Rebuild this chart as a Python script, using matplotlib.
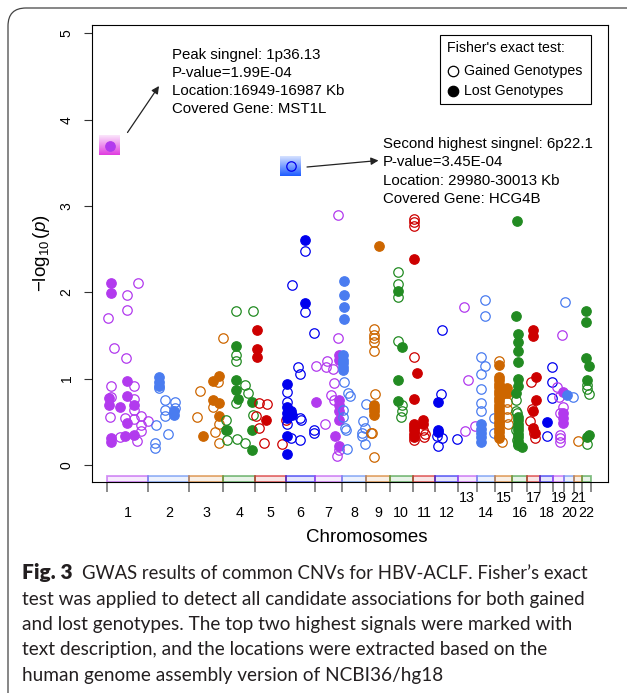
import numpy as np
import matplotlib
matplotlib.use("Agg")
import matplotlib.pyplot as plt
from matplotlib.patches import Rectangle, FancyBboxPatch
from matplotlib.lines import Line2D
from matplotlib.transforms import IdentityTransform, blended_transform_factory

plt.rcParams['font.family'] = ['Liberation Sans', 'DejaVu Sans']
plt.rcParams['mathtext.fontset'] = 'custom'
plt.rcParams['mathtext.rm'] = 'Liberation Sans'
plt.rcParams['mathtext.it'] = 'Liberation Sans:italic'

# ---------------- data ----------------
chrom_labels = [str(i) for i in range(1, 23)]
chrom_len_mb = [247.25, 242.95, 199.50, 191.27, 180.86, 170.90, 158.82, 146.27,
                140.27, 135.37, 134.45, 132.35, 114.14, 106.37, 100.34, 88.83,
                78.77, 76.12, 63.81, 62.44, 46.94, 49.69]
chrom_colors = ['#B23AEE', '#4A7CF0', '#CD6600', '#228B22', '#CD0000', '#0000EE']

# Gained genotypes (open circles): position within chromosome (Mb), -log10(p)
gained_pos = [
    [183.7, 118.5, 118.5, 9.5, 43, 112.6, 25.5, 160, 25.5, 160, 162, 21.3, 110, 160, 205, 205, 205, 179.5, 80.6, 246],
    [60.8, 100, 155.6, 96.4, 155.6, 96.4, 46.6, 116, 40.7, 40.7],
    [197, 60.9, 171, 137.9, 44.9, 173.4, 153.3, 173.4],
    [74.7, 179, 74.7, 74.7, 129.8, 149.3, 74.7, 179, 17.2, 21.3, 80.6, 129.8, 21.3],
    [23.2, 67, 3.7, 23.2, 52.8, 156, 180],
    [30.0, 113.2, 34.4, 113.2, 169.5, 73.5, 83.5, 8.3, 8.3, 83.5, 87.7, 8.3, 28.4, 83.5, 169.5, 169.5],
    [139.5, 139.5, 7.4, 70.8, 66.7, 110, 114, 96.3, 114, 60.7, 130, 145.5],
    [16.3, 40, 50, 146, 10.4, 10.4, 20.4, 26.4, 125.3, 139, 119.4, 139, 30.5, 123],
    [47.8, 47.8, 47.8, 47.8, 47.8, 52, 26.4, 34, 47.8],
    [49.7, 49.7, 49.7, 49.7, 69.9, 69.9, 65.7],
    [9.1, 9.1, 9.1, 9.1, 62.5, 72.5, 66.6, 9.1],
    [37, 31.1, 7.4, 40.6, 16.9, 130.6],
    [36.8, 58.7, 42.7, 102],
    [47.1, 47.1, 23.4, 47.1, 23.4, 23.4, 23.4, 23.4, 103.4, 103.4],
    [25.5, 69.3, 69.3, 72.9, 78.8, 39.7],
    [22.3, 22.3, 30, 22.3, 28.2, 37.7],
    [22.3, 28.3, 18.2, 41.9, 47.8],
    [68, 68, 68, 42],
    [51.1, 25, 37, 61.8, 41, 41, 41, 41],
    [6.9, 52.5],
    [23.2],
    [26, 29.6, 41.5, 26],
]
gained_logp = [
    [2.11, 1.97, 1.79, 1.70, 1.35, 1.24, 0.915, 0.91, 0.79, 0.76, 0.64, 0.56, 0.54, 0.53, 0.57, 0.46, 0.39, 0.28, 0.32, 0.51],
    [0.89, 0.75, 0.73, 0.64, 0.66, 0.57, 0.46, 0.355, 0.26, 0.20],
    [1.475, 0.86, 0.965, 0.675, 0.56, 0.48, 0.385, 0.26],
    [1.78, 1.78, 1.275, 1.205, 0.93, 0.83, 0.715, 0.58, 0.52, 0.405, 0.30, 0.25, 0.29],
    [0.72, 0.71, 0.57, 0.425, 0.26, 0.245, 0.52],
    [3.46, 2.48, 2.085, 1.77, 1.53, 1.14, 1.055, 0.85, 0.73, 0.54, 0.52, 0.48, 0.31, 0.29, 0.40, 0.37],
    [2.90, 1.47, 1.15, 1.20, 1.14, 1.11, 0.95, 0.81, 0.75, 0.475, 0.10, 0.17],
    [0.965, 0.83, 0.80, 0.71, 0.64, 0.56, 0.425, 0.40, 0.51, 0.425, 0.33, 0.245, 0.19, 0.37],
    [1.57, 1.51, 1.47, 1.43, 1.32, 0.82, 0.37, 0.37, 0.09],
    [2.23, 2.10, 1.94, 1.44, 0.69, 0.63, 0.56],
    [2.85, 2.81, 2.77, 1.25, 0.41, 0.36, 0.32, 0.29],
    [1.56, 0.82, 0.34, 0.31, 0.22, 0.30],
    [1.83, 0.99, 0.39, 0.45],
    [1.91, 1.73, 1.255, 1.15, 1.055, 0.88, 0.72, 0.62, 0.55, 0.375],
    [1.20, 0.73, 0.645, 0.56, 0.475, 0.27],
    [0.75, 0.63, 0.60, 0.405, 0.29, 0.23],
    [0.965, 0.645, 0.51, 0.37, 0.31],
    [1.14, 0.96, 0.78, 0.33],
    [1.51, 0.90, 0.79, 0.67, 0.60, 0.35, 0.31, 0.27],
    [1.885, 0.785],
    [0.28],
    [0.93, 0.875, 0.82, 0.245],
]

# Lost genotypes (filled circles)
lost_pos = [
    [16.97, 25.5, 25.5, 120, 120, 15.4, 15.4, 80.6, 160, 120, 110, 160, 27, 27],
    [60.8, 60.8, 60.8, 149.7, 149.7],
    [137.9, 173.4, 137.9, 173.4, 173.4, 78.6],
    [74.7, 74.7, 74.7, 90, 169.4, 169.4, 169.4, 17.2],
    [7.8, 7.8, 7.8, 63],
    [113.2, 113.2, 8.3, 8.3, 30, 8.3, 36, 8.3, 8.3, 8.3],
    [7.4, 145.5, 145.5, 145.5, 145.5, 145.5, 145.5, 120, 145.5],
    [16.3, 16.3, 16.3, 16.3, 10.4, 10.4, 10.4, 10.4, 10.4],
    [75.6, 47.8, 47.8, 47.8, 47.8],
    [49.7, 73.4, 49.7, 49.7],
    [9.1, 25.1, 9.1, 9.1, 9.1, 9.1, 9.1, 9.1, 62.5, 62.5],
    [16.9, 16.9, 16.9],
    [],
    [23.4, 23.4, 23.4, 23.4, 23.4],
    [25.5, 25.5, 25.5, 25.5, 25.5, 25.5, 25.5, 25.5, 25.5, 25.5, 25.5, 25.5, 25.5, 25.5,
     25.5, 25.5, 25.5, 25.5, 25.5, 25.5, 72.9, 72.9],
    [28.2, 22.3, 37.7, 37.7, 37.7, 37.7, 37.7, 37.7, 22.3, 37.7, 37.7, 37.7, 37.7, 37.7,
     37.7, 37.7, 37.7, 37.7, 61.4],
    [37.7, 37.7, 52, 52, 37.7, 37.7, 47.8],
    [42],
    [57, 61.8, 61.8, 61.8],
    [17],
    [],
    [20.1, 20.1, 20.1, 41.5, 26, 41.5, 29.6],
]
lost_logp = [
    [3.70, 2.105, 1.99, 0.973, 0.80, 0.773, 0.70, 0.676, 0.695, 0.483, 0.34, 0.347, 0.31, 0.27],
    [1.02, 0.965, 0.91, 0.62, 0.58],
    [0.973, 1.03, 0.75, 0.72, 0.57, 0.33],
    [1.38, 0.99, 0.87, 0.77, 0.73, 0.405, 0.17, 0.41],
    [1.56, 1.34, 1.25, 0.52],
    [2.61, 1.875, 0.935, 0.67, 0.63, 0.60, 0.58, 0.55, 0.33, 0.13],
    [0.73, 1.27, 1.22, 0.75, 0.70, 0.62, 0.52, 0.335, 0.22],
    [2.13, 1.97, 1.83, 1.69, 1.27, 1.22, 1.18, 1.14, 1.10],
    [2.54, 0.70, 0.66, 0.62, 0.58],
    [2.02, 1.37, 0.99, 0.74],
    [2.39, 1.06, 0.76, 0.48, 0.44, 0.40, 0.36, 0.32, 0.52, 0.47],
    [0.73, 0.41, 0.38],
    [],
    [0.47, 0.42, 0.37, 0.32, 0.27],
    [1.16, 1.02, 0.98, 0.94, 0.90, 0.86, 0.82, 0.78, 0.74, 0.70, 0.66, 0.62, 0.58, 0.54,
     0.50, 0.46, 0.42, 0.38, 0.34, 0.31, 0.89, 0.83],
    [2.83, 1.73, 1.52, 1.43, 1.32, 1.19, 1.00, 0.915, 0.83, 0.56, 0.52, 0.48, 0.44, 0.40,
     0.36, 0.32, 0.28, 0.24, 0.21],
    [1.56, 1.49, 1.02, 0.75, 0.63, 0.425, 0.37],
    [0.50],
    [0.85, 0.60, 0.55, 0.49],
    [0.81],
    [],
    [1.78, 1.66, 1.235, 1.15, 0.985, 0.35, 0.32],
]

# highlighted signals
hl_chrom = [1, 6]
hl_pos = [16.968, 29.997]
hl_logp = [3.70, 3.46]
hl_colors = [('#FBE6FB', '#E03CE0'), ('#D6E2FF', '#1E5CFF')]
hl_texts = [["Peak singnel: 1p36.13", "P-value=1.99E-04", "Location:16949-16987 Kb",
             "Covered Gene: MST1L"],
            ["Second highest singnel: 6p22.1", "P-value=3.45E-04", "Location: 29980-30013 Kb",
             "Covered Gene: HCG4B"]]

caption_bold = "Fig. 3"
caption_lines = ["GWAS results of common CNVs for HBV-ACLF. Fisher\u2019s exact",
                 "test was applied to detect all candidate associations for both gained",
                 "and lost genotypes. The top two highest signals were marked with",
                 "text description, and the locations were extracted based on the",
                 "human genome assembly version of NCBI36/hg18"]

# ---------------- figure ----------------
W, H = 627, 693
fig = plt.figure(figsize=(W / 100, H / 100), dpi=100)


def F(x, y):
    return (x / W, 1 - y / H)


ax = fig.add_axes([92 / W, 1 - 482 / H, 516 / W, 457 / H])

starts = np.concatenate([[0], np.cumsum(chrom_len_mb)[:-1]])
ends = starts + np.array(chrom_len_mb)
total = ends[-1]

# highlight gradient squares
for c, p, lp, (ctop, cbot) in zip(hl_chrom, hl_pos, hl_logp, hl_colors):
    x0 = starts[c - 1] + p
    t = np.linspace(0, 1, 64)[:, None]
    ct = np.array(matplotlib.colors.to_rgb(ctop))
    cb = np.array(matplotlib.colors.to_rgb(cbot))
    img = (ct[None, None, :] * (1 - t[..., None]) + cb[None, None, :] * t[..., None])
    hw, hh = 10.5 * total / 484.0, 9.5 / 86.3
    ax.imshow(img, extent=[x0 - hw, x0 + hw, lp - hh, lp + hh], origin='upper',
              aspect='auto', zorder=1, interpolation='bilinear')

for i in range(22):
    col = chrom_colors[i % 6]
    gx = starts[i] + np.array(gained_pos[i], dtype=float)
    ax.plot(gx, gained_logp[i], ls='none', marker='o', mfc='none', mec=col,
            ms=6.8, mew=0.9, zorder=3)
    if lost_pos[i]:
        lx = starts[i] + np.array(lost_pos[i], dtype=float)
        ax.plot(lx, lost_logp[i], ls='none', marker='o', mfc=col, mec=col,
                ms=6.8, mew=0.9, zorder=3)

ymin, ymax = -0.197, 5.096
xmin, xmax = -87.1, total + 103

# chromosome bars
for i in range(22):
    col = chrom_colors[i % 6]
    ax.add_patch(Rectangle((starts[i], ymin), chrom_len_mb[i], 0.073,
                           facecolor=col, edgecolor='none', alpha=0.10, zorder=2))
    ax.add_patch(Rectangle((starts[i], ymin), chrom_len_mb[i], 0.073,
                           facecolor='none', edgecolor=col, alpha=0.55, lw=1.3, zorder=2))

ax.set_xlim(xmin, xmax)
ax.set_ylim(ymin, ymax)
for s in ax.spines.values():
    s.set_linewidth(0.8)
    s.set_color('black')

ax.set_yticks(range(6))
ax.set_yticklabels([str(v) for v in range(6)], rotation=90, va='center')
ax.tick_params(axis='y', length=5.8, width=0.8, labelsize=10, pad=7.5, color='#333333')

ax.set_xticks(np.append(starts, total))
ax.set_xticklabels([])
ax.tick_params(axis='x', length=7.5, width=1.2, color='#777777')

trans = blended_transform_factory(ax.transData, ax.transAxes)
for i, lab in enumerate(chrom_labels):
    cx = starts[i] + chrom_len_mb[i] / 2
    upper = (i + 1) >= 13 and (i + 1) % 2 == 1
    yy = -16 / 457 if upper else -31 / 457
    ax.text(cx, yy, lab, transform=trans, ha='center', va='center', fontsize=10.3)

fig.text(*F(367, 538), "Chromosomes", ha='center', va='center', fontsize=13.5)
fig.text(*F(42, 253), r"$-\log_{10}(p)$", ha='center', va='center', rotation=90, fontsize=13.5)

# annotations
for j, ln in enumerate(hl_texts[0]):
    fig.text(*F(172, 58.8 + 18 * j), ln, ha='left', va='baseline', fontsize=10.8)
for j, ln in enumerate(hl_texts[1]):
    fig.text(*F(383, 148.2 + 18.2 * j), ln, ha='left', va='baseline', fontsize=10.8)
ax.annotate('', xy=F(159, 86), xytext=F(127.5, 132.5), xycoords='figure fraction',
            textcoords='figure fraction',
            arrowprops=dict(arrowstyle='-|>', color='#222222', lw=0.9, mutation_scale=11,
                            shrinkA=0, shrinkB=0))
ax.annotate('', xy=F(378.5, 160.5), xytext=F(307, 167), xycoords='figure fraction',
            textcoords='figure fraction',
            arrowprops=dict(arrowstyle='-|>', color='#222222', lw=0.9, mutation_scale=11,
                            shrinkA=0, shrinkB=0))

# legend box
fig.add_artist(Rectangle(F(440, 104), 151 / W, 69 / H, transform=fig.transFigure,
                         fill=False, ec='black', lw=0.8))
fig.text(*F(447, 48), "Fisher's exact test:", ha='left', va='center', fontsize=10.2)
fig.add_artist(Line2D([453 / W], [1 - 71 / H], marker='o', mfc='none', mec='black',
                      ms=7.5, mew=0.9, transform=fig.transFigure))
fig.add_artist(Line2D([453 / W], [1 - 91 / H], marker='o', mfc='black', mec='black',
                      ms=7.5, mew=0.9, transform=fig.transFigure))
fig.text(*F(464, 71), "Gained Genotypes", ha='left', va='center', fontsize=10.2)
fig.text(*F(464, 91), "Lost Genotypes", ha='left', va='center', fontsize=10.2)

# outer rounded frame
fig.add_artist(FancyBboxPatch((8, -60), 720, 685 + 60, boxstyle="round,pad=0,rounding_size=18",
                              transform=IdentityTransform(), fill=False, ec='#444444', lw=0.9))

# caption
cap_font = ['Lato', 'DejaVu Sans']
cap_size = 13.7
baselines = [579, 604.5, 630, 655.5, 681]
tb = fig.text(*F(22, baselines[0]), caption_bold, ha='left', va='baseline', fontsize=15,
              fontweight='heavy', family=cap_font, color='#231F20')
fig.canvas.draw()
renderer = fig.canvas.get_renderer()
bb = tb.get_window_extent(renderer)
x_after = bb.x1 + 9
t1 = fig.text(x_after / W, 1 - baselines[0] / H, caption_lines[0], ha='left', va='baseline',
              fontsize=cap_size, family=cap_font, color='#231F20')
fig.canvas.draw()
w1 = t1.get_window_extent(renderer).width
target = 588 - x_after
if w1 > target:
    t1.set_fontsize(cap_size * target / w1)
for ln, yb in zip(caption_lines[1:], baselines[1:]):
    fig.text(*F(22, yb), ln, ha='left', va='baseline', fontsize=cap_size, family=cap_font,
             color='#231F20')

fig.savefig('out.png', dpi=100)
